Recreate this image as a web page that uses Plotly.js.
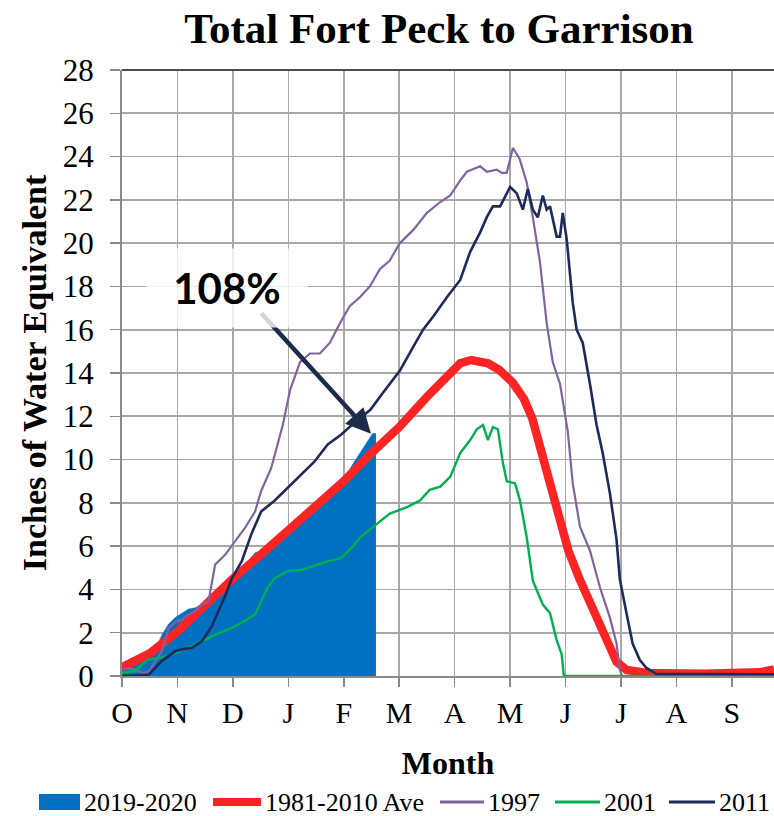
<!DOCTYPE html>
<html>
<head>
<meta charset="utf-8">
<script src="https://cdn.plot.ly/plotly-3.0.1.min.js"></script>
<style>html,body{margin:0;padding:0;background:#fff;}</style>
</head>
<body>
<div id="chart" style="width:774px;height:816px;"></div>
<script>
// Month tick labels (x = months since Oct 1)
const monthLabels = ['O','N','D','J','F','M','A','M','J','J','A','S'];
const monthTicks = [0,1,2,3,4,5,6,7,8,9,10,11];

// Series names
const seriesNames = ['2019-2020','1981-2010 Ave','1997','2001','2011'];

// 2019-2020 (filled area)
const wy2020X = [0,0.12,0.24,0.36,0.48,0.6,0.72,0.84,0.96,1.08,1.2,1.32,1.44,1.56,1.68,1.8,1.92,2.04,2.16,2.28,2.4,2.51,2.63,2.75,2.87,2.99,3.11,3.23,3.35,3.47,3.59,3.71,3.83,3.95,4.07,4.19,4.31,4.43,4.52,4.58];
const wy2020Y = [0.38,0.7,0.77,0.92,1.0,1.23,1.9,2.4,2.7,2.9,3.1,3.15,3.3,3.46,3.6,4.0,4.4,4.7,4.85,5.3,5.7,5.77,5.9,6.2,6.3,6.5,6.85,7.15,7.45,7.8,8.1,8.3,8.7,9.0,9.4,9.9,10.4,10.85,11.2,11.2];

// 1981-2010 average
const avgX = [0,0.5,1.0,1.5,2.0,2.5,3.0,3.5,4.0,4.5,5.0,5.5,5.9,6.1,6.3,6.6,6.8,7.05,7.25,7.4,7.55,7.7,7.9,8.05,8.25,8.5,8.75,8.92,9.1,9.46,10.5,11.2,11.5,11.76];
const avgY = [0.4,1.05,2.05,3.3,4.5,5.6,6.75,7.9,9.0,10.3,11.5,12.9,14.0,14.45,14.6,14.45,14.15,13.55,12.8,11.9,10.5,9.0,7.2,5.8,4.5,3.0,1.6,0.65,0.28,0.14,0.1,0.1,0.17,0.3];

// 1997
const y1997X = [0,0.12,0.24,0.36,0.48,0.6,0.72,0.84,0.96,1.08,1.2,1.32,1.44,1.56,1.62,1.68,1.86,2.04,2.22,2.4,2.51,2.69,2.81,2.9,3.03,3.21,3.39,3.57,3.75,3.93,4.11,4.29,4.47,4.65,4.83,5.01,5.25,5.5,5.74,5.92,6.1,6.22,6.46,6.58,6.76,6.85,6.94,7.05,7.17,7.3,7.41,7.54,7.66,7.77,7.9,8.04,8.13,8.26,8.44,8.62,8.8,8.92,8.98,9.02,11.76];
const y1997Y = [0.3,0.35,0.3,0.15,0.2,0.7,1.15,2.2,2.5,2.6,2.85,3.0,3.3,3.45,4.4,5.15,5.6,6.2,6.85,7.6,8.55,9.6,10.7,11.6,13.2,14.5,14.9,14.9,15.4,16.3,17.1,17.5,18.0,18.8,19.2,20.0,20.6,21.4,21.9,22.2,22.9,23.3,23.55,23.3,23.4,23.25,23.25,24.4,23.9,22.8,21.2,19.1,16.3,14.5,13.5,11.3,8.9,6.9,5.8,4.1,2.7,1.5,0.28,0,0];

// 2001
const y2001X = [0,0.24,0.36,0.48,0.72,0.96,1.2,1.44,1.68,1.92,2.16,2.4,2.51,2.63,2.75,2.99,3.23,3.47,3.71,3.95,4.17,4.29,4.53,4.83,5.14,5.37,5.55,5.74,5.92,6.1,6.28,6.4,6.51,6.6,6.69,6.78,6.87,6.94,7.09,7.18,7.3,7.41,7.59,7.72,7.84,7.93,7.97,11.76];
const y2001Y = [0.15,0.23,0.54,0.77,0.85,1.08,1.3,1.6,1.9,2.15,2.46,2.85,3.46,4.1,4.5,4.85,4.9,5.1,5.3,5.45,6.0,6.4,6.9,7.5,7.8,8.1,8.6,8.75,9.2,10.3,10.9,11.4,11.6,10.9,11.5,11.4,9.85,9.0,8.9,8.1,6.4,4.4,3.3,2.9,1.66,1.0,0,0];

// 2011
const y2011X = [0,0.48,0.72,0.96,1.08,1.26,1.44,1.62,1.74,1.86,1.98,2.16,2.34,2.51,2.75,2.99,3.23,3.47,3.71,3.95,4.19,4.48,4.71,5.01,5.25,5.43,5.61,5.86,6.1,6.28,6.46,6.58,6.69,6.82,7.0,7.12,7.23,7.32,7.41,7.5,7.59,7.66,7.72,7.84,7.9,7.95,8.02,8.13,8.2,8.31,8.44,8.56,8.67,8.8,8.92,8.98,9.1,9.21,9.34,9.46,9.64,11.76];
const y2011Y = [0,0.05,0.7,1.15,1.23,1.3,1.6,2.3,3.0,3.7,4.5,5.3,6.6,7.6,8.1,8.7,9.3,9.9,10.7,11.15,11.7,12.3,13.1,14.1,15.2,16.0,16.6,17.5,18.3,19.6,20.5,21.2,21.7,21.7,22.6,22.3,21.55,22.5,21.55,21.2,22.2,21.55,21.7,20.3,20.3,21.4,20.2,17.25,16.0,15.4,13.5,11.6,10.3,8.45,6.3,4.45,2.9,1.5,0.74,0.37,0.1,0.08];

// Annotation
const pctLabel = '108%';
const pctPoint = [4.49, 11.19];
const pctTextPos = [1.9, 17.95];

const colors = ['#0070c0','#ff2424','#8064a2','#00b050','#1f2a5c'];
const widths = [0, 8.5, 2.2, 2.4, 2.6];

const traces = [
  {x: wy2020X, y: wy2020Y, name: seriesNames[0], type:'scatter', mode:'lines', fill:'tozeroy', fillcolor: colors[0], line:{color: colors[0], width: 0.5}},
  {x: avgX, y: avgY, name: seriesNames[1], type:'scatter', mode:'lines', line:{color: colors[1], width: widths[1]}},
  {x: y1997X, y: y1997Y, name: seriesNames[2], type:'scatter', mode:'lines', line:{color: colors[2], width: widths[2]}},
  {x: y2001X, y: y2001Y, name: seriesNames[3], type:'scatter', mode:'lines', line:{color: colors[3], width: widths[3]}},
  {x: y2011X, y: y2011Y, name: seriesNames[4], type:'scatter', mode:'lines', line:{color: colors[4], width: widths[4]}}
];

// plot area geometry (pixels) for legend placement
const L = 122, T = 70, W = 652, H = 606;
const px = v => (v - L) / W;
const py = v => (T + H - v) / H;

const legendY = 802;
const swatches = [
  {x0: 39, x1: 80, kind: 'rect'},
  {x0: 213, x1: 261, kind: 'line', w: 8},
  {x0: 440, x1: 484, kind: 'line', w: 3},
  {x0: 555, x1: 600, kind: 'line', w: 3},
  {x0: 669, x1: 715, kind: 'line', w: 3}
];
const legendTextX = [82, 263, 486, 602, 717];

const shapes = [
  {type:'line', xref:'paper', yref:'paper', x0:0, x1:1, y0:1, y1:1, line:{color:'#4d4d4d', width:2}}
];
const annotations = [];
swatches.forEach((s, i) => {
  if (s.kind === 'rect') {
    shapes.push({type:'rect', xref:'paper', yref:'paper', x0:px(s.x0), x1:px(s.x1), y0:py(legendY+8), y1:py(legendY-8), fillcolor: colors[i], line:{width:0}});
  } else {
    shapes.push({type:'line', xref:'paper', yref:'paper', x0:px(s.x0), x1:px(s.x1), y0:py(legendY), y1:py(legendY), line:{color: colors[i], width: s.w}});
  }
  annotations.push({text: seriesNames[i], xref:'paper', yref:'paper', x: px(legendTextX[i]), y: py(legendY), xanchor:'left', yanchor:'middle', showarrow:false, borderpad:1, font:{family:'Liberation Serif', size:26, color:'#000'}});
});

annotations.push({
  text:'', x: pctPoint[0], y: pctPoint[1], xref:'x', yref:'y', showarrow:true,
  ax: -111, ay: -122, arrowhead:2, arrowsize:1.1, arrowwidth:4.5, arrowcolor:'#1c2b4b'
});
annotations.push({
  text:'<b>' + pctLabel + '</b>', x: pctTextPos[0], y: pctTextPos[1], xref:'x', yref:'y', showarrow:false,
  width:160, height:78, bgcolor:'rgba(255,255,255,0.8)', borderpad:0,
  font:{family:'Lato', size:42, color:'#000'}
});

const layout = {
  width: 774, height: 816, autosize:false,
  margin: {l: L, r: 0, t: T, b: 816 - T - H, pad: 0},
  paper_bgcolor:'#ffffff', plot_bgcolor:'#ffffff',
  showlegend:false,
  title: {text:'<b>Total Fort Peck to Garrison</b>', font:{family:'Liberation Serif', size:43, color:'#000'},
          xref:'container', x: 439/774, xanchor:'center', yref:'container', y: 1 - 28/816, yanchor:'middle'},
  xaxis: {range:[0, 11.76], tickvals: monthTicks, ticktext: monthLabels, showgrid:true, gridcolor:'#a8a8a8', gridwidth:1.6,
          showline:true, linecolor:'#8a8a8a', linewidth:2, ticks:'outside', ticklen:9, tickwidth:1.5, tickcolor:'#8a8a8a',
          zeroline:false, fixedrange:true,
          tickfont:{family:'Liberation Serif', size:30, color:'#000'},
          title:{text:'<b>Month</b>', font:{family:'Liberation Serif', size:32, color:'#000'}, standoff:24}},
  yaxis: {range:[0, 28], tick0:0, dtick:2, showgrid:true, gridcolor:'#a8a8a8', gridwidth:1.6,
          showline:true, linecolor:'#8a8a8a', linewidth:2, ticks:'outside', ticklen:10, tickwidth:1.5, tickcolor:'#8a8a8a',
          zeroline:false, fixedrange:true, ticklabelstandoff:10,
          tickfont:{family:'Liberation Serif', size:31, color:'#000'},
          title:{text:'<b>Inches of Water Equivalent</b>', font:{family:'Liberation Serif', size:34, color:'#000'}, standoff:6}},
  shapes: shapes,
  annotations: annotations
};

Plotly.newPlot('chart', traces, layout, {staticPlot:true, displayModeBar:false});
</script>
</body>
</html>
